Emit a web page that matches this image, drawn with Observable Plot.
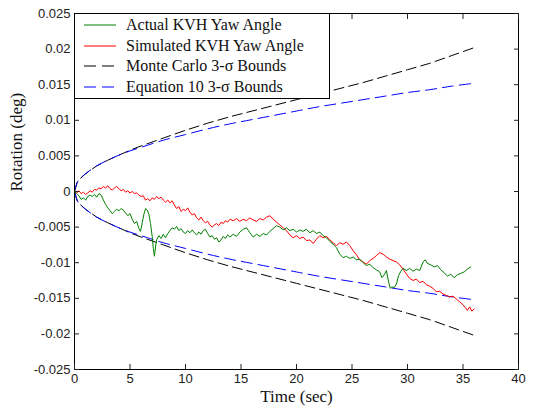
<!DOCTYPE html>
<html>
<head>
<meta charset="utf-8">
<script src="https://cdn.jsdelivr.net/npm/d3@7"></script>
<script src="https://cdn.jsdelivr.net/npm/@observablehq/plot@0.6"></script>
<style>
  html, body { margin: 0; padding: 0; background: #fff; }
  #wrap { position: relative; width: 533px; height: 411px; }
  #legend {
    position: absolute; left: 74px; top: 13px; width: 254px; height: 84px;
    background: #fff; border: 1px solid #000; box-sizing: content-box;
    font-family: "Liberation Serif", "Times New Roman", serif; font-size: 16px; color: #111;
  }
  .row { position: absolute; left: 0; height: 20px; display: flex; align-items: center; }
  .row svg { margin-left: 9px; margin-right: 10px; }
</style>
</head>
<body>
<div id="wrap"></div>
<script>
// ---- data ----
const xTicks = [0, 5, 10, 15, 20, 25, 30, 35, 40];
const yTicks = [-0.025, -0.02, -0.015, -0.01, -0.005, 0, 0.005, 0.01, 0.015, 0.02, 0.025];

const seriesNames = ["Actual KVH Yaw Angle", "Simulated KVH Yaw Angle", "Monte Carlo 3-\u03c3 Bounds", "Equation 10 3-\u03c3 Bounds"];
const seriesColors = ["#008000", "#ff0000", "#000000", "#0000ff"];

// 3-sigma bound magnitudes (upper = +, lower = -)
const boundTime = [0, 0.25, 0.5, 1, 2, 3, 4, 5, 6, 8, 10, 12, 14, 16, 18, 20, 22, 24, 26, 28, 30, 32, 34, 36];
const monteCarloBound = [0, 0.0013, 0.0018, 0.0025, 0.0036, 0.0044, 0.0051, 0.0058, 0.0064, 0.0075, 0.0086, 0.0096, 0.0105, 0.0113, 0.0121, 0.0129, 0.0137, 0.0145, 0.0153, 0.0162, 0.0171, 0.0180, 0.0191, 0.0202];
const equation10Bound = [0, 0.0013, 0.0018, 0.0025, 0.0036, 0.0044, 0.0051, 0.0057, 0.0062, 0.0072, 0.0080, 0.0088, 0.0095, 0.0101, 0.0107, 0.0113, 0.0119, 0.0124, 0.0129, 0.0134, 0.0139, 0.0143, 0.0148, 0.0152];

const simTime = [0,0.2,0.4,0.6,0.8,1.0,1.2,1.4,1.6,1.8,2.0,2.2,2.4,2.6,2.8,3.0,3.2,3.4,3.6,3.8,4.0,4.2,4.4,4.6,4.8,5.0,5.2,5.4,5.6,5.8,6.0,6.2,6.4,6.6,6.8,7.0,7.2,7.4,7.6,7.8,8.0,8.2,8.4,8.6,8.8,9.0,9.2,9.4,9.6,9.8,10.0,10.2,10.4,10.6,10.8,11.0,11.2,11.4,11.6,11.8,12.0,12.2,12.4,12.6,12.8,13.0,13.2,13.4,13.6,13.8,14.0,14.3,14.6,14.9,15.2,15.5,15.8,16.1,16.4,16.7,17.0,17.3,17.6,17.9,18.2,18.5,18.8,19.1,19.4,19.7,20.0,20.3,20.6,20.9,21.2,21.5,21.8,22.1,22.4,22.7,23.0,23.3,23.6,23.9,24.2,24.5,24.8,25.1,25.4,25.7,26.0,26.3,26.6,26.9,27.2,27.5,27.8,28.1,28.4,28.7,29.0,29.3,29.6,29.9,30.2,30.5,30.8,31.1,31.4,31.7,32.0,32.3,32.6,32.9,33.2,33.5,33.8,34.1,34.4,34.7,35.0,35.2,35.4,35.6,35.8,36.0];
const simValue = [0,-0.0002,0.0001,-0.0003,-0.0001,-0.0004,-0.0002,0.0001,-0.0001,0.0003,0.0002,0.0005,0.0004,0.0007,0.0005,0.0008,0.0004,0.0002,0.0005,0.0007,0.0004,0.0001,0.0003,-0.0001,0.0001,-0.0002,0.0,-0.0003,-0.0002,-0.0005,-0.0007,-0.0006,-0.0012,-0.0010,-0.0013,-0.0009,-0.0011,-0.0007,-0.0010,-0.0008,-0.0012,-0.0015,-0.0012,-0.0016,-0.0013,-0.0019,-0.0024,-0.0021,-0.0028,-0.0025,-0.0027,-0.0023,-0.0029,-0.0033,-0.0031,-0.0037,-0.0040,-0.0036,-0.0041,-0.0044,-0.0042,-0.0047,-0.0050,-0.0047,-0.0045,-0.0048,-0.0043,-0.0045,-0.0041,-0.0043,-0.0039,-0.0041,-0.0038,-0.0042,-0.0039,-0.0041,-0.0037,-0.0040,-0.0042,-0.0038,-0.0040,-0.0036,-0.0034,-0.0039,-0.0043,-0.0047,-0.0051,-0.0055,-0.0061,-0.0065,-0.0062,-0.0066,-0.0064,-0.0069,-0.0068,-0.0073,-0.0067,-0.0062,-0.0065,-0.0063,-0.0068,-0.0072,-0.0076,-0.0072,-0.0074,-0.0071,-0.0076,-0.0083,-0.0089,-0.0096,-0.0099,-0.0102,-0.0097,-0.0094,-0.0090,-0.0086,-0.0088,-0.0092,-0.0095,-0.0097,-0.0099,-0.0103,-0.0109,-0.0116,-0.0122,-0.0125,-0.0123,-0.0128,-0.0126,-0.0131,-0.0133,-0.0136,-0.0141,-0.0140,-0.0144,-0.0146,-0.0148,-0.0147,-0.0151,-0.0155,-0.0159,-0.0163,-0.0167,-0.0162,-0.0168,-0.0165];

const actTime = [0,0.2,0.4,0.6,0.8,1.0,1.2,1.4,1.6,1.8,2.0,2.2,2.4,2.6,2.8,3.0,3.2,3.4,3.6,3.8,4.0,4.2,4.4,4.6,4.8,5.0,5.2,5.4,5.6,5.8,5.95,6.1,6.25,6.4,6.55,6.7,6.85,7.0,7.1,7.2,7.3,7.4,7.6,7.8,8.0,8.2,8.4,8.6,8.8,9.0,9.2,9.4,9.6,9.8,10.0,10.2,10.4,10.6,10.8,11.0,11.2,11.4,11.6,11.8,12.0,12.2,12.4,12.6,12.8,13.0,13.2,13.4,13.6,13.8,14.0,14.3,14.6,14.9,15.2,15.5,15.8,16.1,16.4,16.7,17.0,17.3,17.6,17.9,18.2,18.5,18.8,19.1,19.4,19.7,20.0,20.3,20.6,20.9,21.2,21.5,21.8,22.1,22.4,22.7,23.0,23.3,23.6,23.9,24.2,24.5,24.8,25.1,25.4,25.7,26.0,26.3,26.6,26.9,27.2,27.5,27.7,27.9,28.1,28.3,28.45,28.6,28.8,29.0,29.2,29.4,29.6,29.9,30.2,30.5,30.8,31.1,31.4,31.6,31.8,32.1,32.4,32.7,33.0,33.3,33.6,33.9,34.2,34.5,34.8,35.1,35.4,35.7];
const actValue = [0,-0.0003,-0.0006,-0.0011,-0.0009,-0.0012,-0.0007,-0.0005,-0.0007,-0.0004,-0.0008,-0.0003,-0.0005,-0.0012,-0.0018,-0.0023,-0.0027,-0.0031,-0.0028,-0.0025,-0.0027,-0.0024,-0.0026,-0.0030,-0.0034,-0.0031,-0.0039,-0.0045,-0.0042,-0.0052,-0.0056,-0.0044,-0.0032,-0.0024,-0.0026,-0.0032,-0.0045,-0.0063,-0.0080,-0.0091,-0.0078,-0.0068,-0.0062,-0.0066,-0.0060,-0.0065,-0.0059,-0.0055,-0.0051,-0.0053,-0.0049,-0.0055,-0.0052,-0.0057,-0.0059,-0.0055,-0.0058,-0.0054,-0.0058,-0.0061,-0.0057,-0.0060,-0.0055,-0.0053,-0.0059,-0.0064,-0.0062,-0.0067,-0.0065,-0.0071,-0.0068,-0.0063,-0.0066,-0.0061,-0.0064,-0.0060,-0.0063,-0.0057,-0.0053,-0.0051,-0.0058,-0.0064,-0.0060,-0.0063,-0.0059,-0.0061,-0.0056,-0.0052,-0.0048,-0.0050,-0.0054,-0.0051,-0.0055,-0.0053,-0.0057,-0.0054,-0.0056,-0.0053,-0.0058,-0.0055,-0.0059,-0.0057,-0.0062,-0.0065,-0.0070,-0.0074,-0.0079,-0.0088,-0.0093,-0.0091,-0.0094,-0.0092,-0.0096,-0.0095,-0.0100,-0.0104,-0.0102,-0.0107,-0.0110,-0.0113,-0.0121,-0.0117,-0.0111,-0.0127,-0.0136,-0.0134,-0.0135,-0.0130,-0.0118,-0.0112,-0.0108,-0.0111,-0.0108,-0.0112,-0.0109,-0.0111,-0.0099,-0.0096,-0.0101,-0.0103,-0.0106,-0.0104,-0.0110,-0.0114,-0.0119,-0.0116,-0.0121,-0.0117,-0.0115,-0.0113,-0.0109,-0.0106];

// ---- tables built from the arrays ----
const mcRows = [
  ...boundTime.map((t, i) => ({t, v: monteCarloBound[i], side: "upper"})),
  ...boundTime.map((t, i) => ({t, v: -monteCarloBound[i], side: "lower"}))
];
const eqRows = [
  ...boundTime.map((t, i) => ({t, v: equation10Bound[i], side: "upper"})),
  ...boundTime.map((t, i) => ({t, v: -equation10Bound[i], side: "lower"}))
];
const simRows = simTime.map((t, i) => ({t, v: simValue[i]}));
const actRows = actTime.map((t, i) => ({t, v: actValue[i]}));

const fmtY = d => String(+d.toFixed(3));
const serif = "'Liberation Serif', 'Times New Roman', serif";
const sans = "'Liberation Sans', Arial, sans-serif";

const chart = Plot.plot({
  width: 533, height: 411,
  marginLeft: 74, marginRight: 15, marginTop: 13, marginBottom: 42,
  style: {fontFamily: sans, fontSize: "13px", color: "#222", background: "#fff", overflow: "visible"},
  x: {domain: [0, 40]},
  y: {domain: [-0.025, 0.025]},
  marks: [
    Plot.line(mcRows, {x: "t", y: "v", z: "side", stroke: seriesColors[2], strokeWidth: 1, strokeDasharray: "10,5"}),
    Plot.line(eqRows, {x: "t", y: "v", z: "side", stroke: seriesColors[3], strokeWidth: 1, strokeDasharray: "11,6", curve: "catmull-rom"}),
    Plot.line(simRows, {x: "t", y: "v", stroke: seriesColors[1], strokeWidth: 1}),
    Plot.line(actRows, {x: "t", y: "v", stroke: seriesColors[0], strokeWidth: 1}),
    Plot.frame({stroke: "#000", strokeWidth: 1}),
    Plot.axisX(xTicks, {anchor: "bottom", tickSize: -5, tickPadding: 9, label: null, fill: "#222"}),
    Plot.axisX(xTicks, {anchor: "top", tickSize: -5, tickFormat: () => "", label: null}),
    Plot.axisY(yTicks, {anchor: "left", tickSize: -5, tickPadding: 9, tickFormat: fmtY, label: null, fill: "#222"}),
    Plot.axisY(yTicks, {anchor: "right", tickSize: -5, tickFormat: () => "", label: null}),
    Plot.text(["Time (sec)"], {frameAnchor: "bottom", dy: 32, fontFamily: serif, fontSize: 17, fill: "#111"}),
    Plot.text(["Rotation (deg)"], {frameAnchor: "left", dx: -58, rotate: -90, fontFamily: serif, fontSize: 17, fill: "#111"})
  ]
});

const wrap = document.getElementById("wrap");
wrap.appendChild(chart);

// legend (overlaid on the upper-left of the plot area, as in the reference)
const legend = document.createElement("div");
legend.id = "legend";
const dashes = ["", "", "12,6", "12,6"];
seriesNames.forEach((name, i) => {
  const row = document.createElement("div");
  row.className = "row";
  row.style.top = (1 + i * 20.5) + "px";
  row.innerHTML = `<svg width="32" height="10"><line x1="0" x2="32" y1="5" y2="5" stroke="${seriesColors[i]}" stroke-width="1" ${dashes[i] ? `stroke-dasharray="${dashes[i]}"` : ""}/></svg><span>${name}</span>`;
  legend.appendChild(row);
});
wrap.appendChild(legend);
</script>
</body>
</html>
